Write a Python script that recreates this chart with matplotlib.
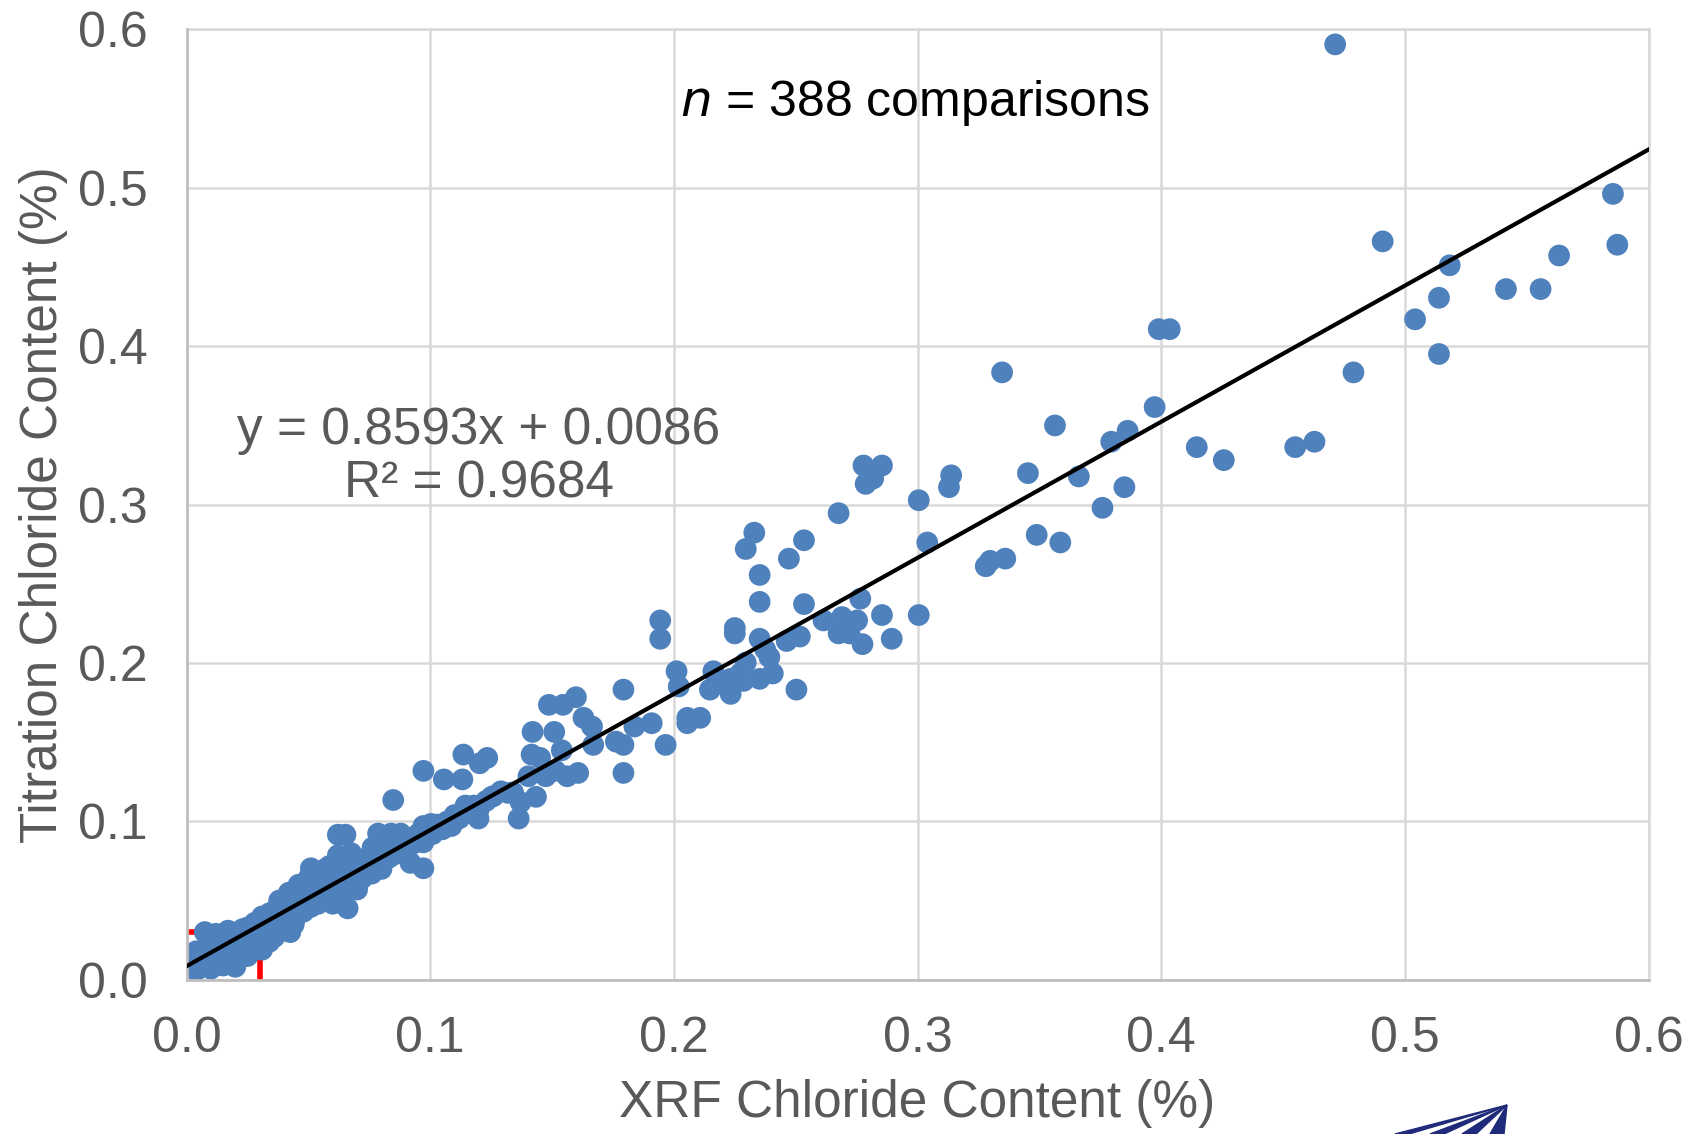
import matplotlib
matplotlib.use("Agg")
import matplotlib.pyplot as plt
from matplotlib.patches import Polygon

plt.rcParams['font.family'] = ['Liberation Sans', 'DejaVu Sans']

# ---- data ----
xrf = [
    0.4714, 0.4909, 0.5854, 0.5872, 0.5184, 0.5633, 0.5140, 0.5415, 0.5557, 0.5042,
    0.5140, 0.4789, 0.3990, 0.4035, 0.3347, 0.3973, 0.3862, 0.3795, 0.3564, 0.4146,
    0.4257, 0.4550, 0.4629, 0.3453, 0.3662, 0.3849, 0.3759, 0.3138, 0.3129, 0.3005,
    0.2778, 0.2854, 0.2787, 0.2818, 0.2676, 0.3040, 0.3489, 0.3586, 0.3360, 0.3280,
    0.3298, 0.2330, 0.2295, 0.2534, 0.2472, 0.2352, 0.2352, 0.2534, 0.2765, 0.3005,
    0.2854, 0.2614, 0.2690, 0.2752, 0.2676, 0.2721, 0.2774, 0.2894, 0.2517, 0.2463,
    0.2352, 0.2375, 0.2392, 0.2406, 0.2352, 0.2503, 0.2250, 0.2250, 0.2295, 0.2273,
    0.2233, 0.2286, 0.2162, 0.2188, 0.2148, 0.2233, 0.1944, 0.1944, 0.2011, 0.2020,
    0.2055, 0.2055, 0.2108, 0.1966, 0.1909, 0.1838, 0.1793, 0.1762, 0.1793, 0.1793,
    0.1664, 0.1629, 0.1598, 0.1545, 0.1487, 0.1669, 0.1540, 0.1509, 0.1420, 0.1416,
    0.1451, 0.1607, 0.1562, 0.1514, 0.1474, 0.1403, 0.1434, 0.1371, 0.1363, 0.1340,
    0.1252, 0.1234, 0.1203, 0.1136, 0.1132, 0.1056, 0.0972, 0.0848, 0.1145, 0.1176,
    0.1198, 0.1096, 0.1087, 0.1003, 0.0972, 0.0972, 0.0919, 0.0972, 0.0879, 0.0839,
    0.0786, 0.0763, 0.0786, 0.0728, 0.0652, 0.0621, 0.0661, 0.0621, 0.0675, 0.0586,
    0.0564, 0.0510, 0.0426, 0.0200, 0.0075,
    0.000, 0.000, 0.000, 0.002, 0.003, 0.004, 0.005, 0.006, 0.008, 0.009,
    0.010, 0.011, 0.012, 0.013, 0.014, 0.015, 0.016, 0.017, 0.018, 0.019,
    0.020, 0.021, 0.022, 0.023, 0.024, 0.025, 0.026, 0.027, 0.028, 0.029,
    0.030, 0.031, 0.032, 0.033, 0.034, 0.035, 0.036, 0.037, 0.038, 0.039,
    0.040, 0.041, 0.042, 0.043, 0.044, 0.045, 0.046, 0.047, 0.048, 0.049,
    0.050, 0.051, 0.052, 0.053, 0.054, 0.055, 0.056, 0.057, 0.058, 0.059,
    0.060, 0.061, 0.062, 0.063, 0.064, 0.065, 0.066, 0.067, 0.068, 0.069,
    0.070, 0.071, 0.072, 0.074, 0.075, 0.076, 0.078, 0.079, 0.080, 0.082,
    0.083, 0.085, 0.086, 0.088, 0.090, 0.091, 0.093, 0.095, 0.097, 0.099,
    0.101, 0.103, 0.105, 0.107, 0.110, 0.112, 0.115, 0.118, 0.120, 0.123,
    0.126, 0.129, 0.132,
    0.012, 0.017, 0.023, 0.027, 0.030, 0.031, 0.034, 0.036, 0.040, 0.044,
    0.038, 0.042, 0.046, 0.050, 0.053, 0.057, 0.060, 0.064, 0.070, 0.004,
    0.010, 0.015, 0.025,
]
titration = [
    0.5906, 0.4662, 0.4962, 0.4641, 0.4511, 0.4573, 0.4306, 0.4361, 0.4361, 0.4170,
    0.3951, 0.3835, 0.4108, 0.4108, 0.3835, 0.3616, 0.3466, 0.3397, 0.3500, 0.3363,
    0.3281, 0.3363, 0.3397, 0.3199, 0.3178, 0.3110, 0.2980, 0.3185, 0.3110, 0.3028,
    0.3247, 0.3247, 0.3131, 0.3165, 0.2946, 0.2761, 0.2809, 0.2761, 0.2659, 0.2611,
    0.2645, 0.2823, 0.2720, 0.2775, 0.2659, 0.2556, 0.2386, 0.2372, 0.2406, 0.2303,
    0.2303, 0.2269, 0.2290, 0.2269, 0.2187, 0.2187, 0.2119, 0.2153, 0.2167, 0.2139,
    0.2153, 0.2085, 0.2037, 0.1934, 0.1900, 0.1832, 0.2221, 0.2187, 0.2003, 0.1934,
    0.1900, 0.1887, 0.1948, 0.1887, 0.1832, 0.1805, 0.2269, 0.2153, 0.1948, 0.1852,
    0.1654, 0.1620, 0.1654, 0.1483, 0.1620, 0.1599, 0.1832, 0.1504, 0.1483, 0.1306,
    0.1599, 0.1654, 0.1784, 0.1736, 0.1736, 0.1483, 0.1449, 0.1565, 0.1565, 0.1422,
    0.1401, 0.1306, 0.1285, 0.1319, 0.1285, 0.1285, 0.1155, 0.1121, 0.1018, 0.1183,
    0.1155, 0.1401, 0.1367, 0.1422, 0.1265, 0.1265, 0.1319, 0.1135, 0.1100, 0.1087,
    0.1018, 0.1018, 0.0971, 0.0984, 0.0971, 0.0704, 0.0738, 0.0868, 0.0923, 0.0923,
    0.0923, 0.0834, 0.0718, 0.0670, 0.0916, 0.0916, 0.0451, 0.0786, 0.0800, 0.0718,
    0.0684, 0.0704, 0.0301, 0.0082, 0.0301,
    0.008, 0.012, 0.016, 0.010, 0.014, 0.018, 0.012, 0.009, 0.016, 0.020,
    0.013, 0.017, 0.022, 0.011, 0.019, 0.024, 0.016, 0.021, 0.013, 0.027,
    0.023, 0.018, 0.030, 0.025, 0.020, 0.033, 0.028, 0.022, 0.036, 0.031,
    0.026, 0.040, 0.034, 0.029, 0.042, 0.037, 0.031, 0.045, 0.039, 0.034,
    0.048, 0.042, 0.036, 0.050, 0.045, 0.040, 0.053, 0.047, 0.043, 0.056,
    0.050, 0.046, 0.059, 0.053, 0.048, 0.061, 0.055, 0.051, 0.064, 0.058,
    0.053, 0.066, 0.061, 0.056, 0.069, 0.063, 0.058, 0.072, 0.066, 0.061,
    0.074, 0.068, 0.064, 0.077, 0.071, 0.067, 0.080, 0.074, 0.070, 0.083,
    0.077, 0.079, 0.086, 0.081, 0.084, 0.089, 0.086, 0.092, 0.088, 0.095,
    0.092, 0.098, 0.095, 0.100, 0.104, 0.102, 0.107, 0.110, 0.108, 0.113,
    0.116, 0.119, 0.118,
    0.029, 0.031, 0.032, 0.034, 0.022, 0.019, 0.024, 0.027, 0.031, 0.035,
    0.050, 0.055, 0.060, 0.064, 0.068, 0.070, 0.048, 0.052, 0.057, 0.006,
    0.007, 0.009, 0.015,
]
slope = 0.8593
intercept = 0.0086
r_squared = 0.9684
n_comparisons = 388
threshold = 0.03
ticks = [0.0, 0.1, 0.2, 0.3, 0.4, 0.5, 0.6]
tick_labels = ["0.0", "0.1", "0.2", "0.3", "0.4", "0.5", "0.6"]

# ---- figure ----
fig = plt.figure(figsize=(16.96, 11.34), dpi=100)
ax = fig.add_axes([0.110, 0.136, 0.862, 0.838])

gray_text = "#595959"
grid_col = "#D9D9D9"

ax.set_xlim(0, 0.6)
ax.set_ylim(0, 0.6)
ax.set_xticks(ticks)
ax.set_yticks(ticks)
ax.set_xticklabels(tick_labels)
ax.set_yticklabels(tick_labels)
ax.tick_params(axis='both', length=0, labelsize=36, colors=gray_text)
ax.tick_params(axis='x', pad=26)
ax.tick_params(axis='y', pad=28)

ax.grid(True, color=grid_col, linewidth=1.8, zorder=0)
ax.set_axisbelow(True)
for s in ['top', 'right']:
    ax.spines[s].set_visible(False)
for s in ['left', 'bottom']:
    ax.spines[s].set_color("#BFBFBF")
    ax.spines[s].set_linewidth(2)
ax.axhline(0.6, color=grid_col, linewidth=1.8, zorder=0, clip_on=False)
ax.axvline(0.6, color=grid_col, linewidth=1.8, zorder=0, clip_on=False)

# threshold lines (behind points)
ax.plot([0, threshold], [threshold, threshold], color="#FF0000", linewidth=4, zorder=1, solid_capstyle='butt')
ax.plot([threshold, threshold], [0, threshold], color="#FF0000", linewidth=4, zorder=1, solid_capstyle='butt')

ax.scatter(xrf, titration, s=245, color="#4F81BD", edgecolors='none', zorder=2)

xs = [0.0, 0.6]
ax.plot(xs, [slope * v + intercept for v in xs], color="black", linewidth=3.0, zorder=3)

ax.text(0.2987, 0.5537, r"$\mathit{n}$" + f" = {n_comparisons} comparisons",
        ha='center', va='center', fontsize=36, color='black')
ax.text(0.1199, 0.330, f"y = {slope:.4f}x + {intercept:.4f}\nR² = {r_squared:.4f}",
        ha='center', va='center', fontsize=37, color=gray_text, linespacing=1.12,
        multialignment='center')

ax.set_xlabel("XRF Chloride Content (%)", fontsize=37, color=gray_text, labelpad=12)
ax.set_ylabel("Titration Chloride Content (%)", fontsize=37, color=gray_text, labelpad=7)

# partial logo at bottom right (cropped in the original)
navy = "#1F2A7A"
apex = (1507 / 1696, 1 - 1105 / 1134)
for bx in [1395, 1430, 1462, 1490]:
    poly = Polygon([apex, (bx / 1696, 0.0), ((bx + 14) / 1696, 0.0)],
                   closed=True, color=navy, transform=fig.transFigure, clip_on=False)
    fig.add_artist(poly)

fig.savefig("out.png", dpi=100)
